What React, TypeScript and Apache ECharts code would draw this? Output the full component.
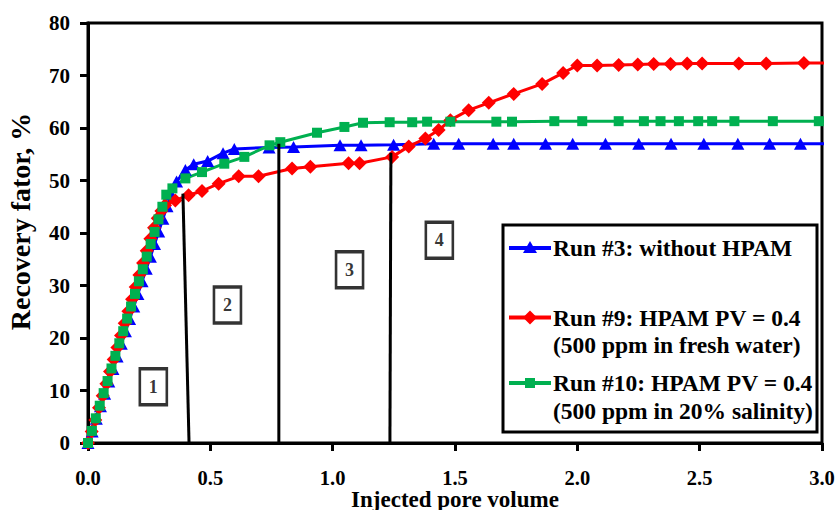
import React, { useEffect, useRef } from "react";
import * as echarts from "echarts";

const FONT = "'Liberation Serif', 'Times New Roman', Times, serif";

// Run #3: without HPAM (blue triangles)
const run3X = [0, 0.017, 0.034, 0.051, 0.068, 0.085, 0.102, 0.119, 0.136, 0.153, 0.17, 0.187, 0.204, 0.221, 0.238, 0.255, 0.272, 0.289, 0.306, 0.323, 0.34,
  0.362, 0.398, 0.432, 0.489, 0.552, 0.598, 0.74, 0.84, 1.03, 1.116, 1.249,
  1.413, 1.515, 1.656, 1.74, 1.87, 1.981, 2.115, 2.251, 2.383, 2.517, 2.656, 2.786, 2.912, 3.05];
const run3Y = [0, 2.2, 4.6, 7.0, 9.4, 11.7, 14.1, 16.5, 18.9, 21.3, 23.6, 26.0, 28.4, 30.8, 33.2, 35.5, 37.9, 40.3, 42.7, 45.1, 47.4,
  49.8, 52.0, 53.1, 53.7, 55.2, 56.0, 56.3, 56.4, 56.7, 56.7, 56.8,
  57.0, 57.0, 57.0, 57.0, 57.0, 57.0, 57.0, 57.0, 57.0, 57.0, 57.0, 57.0, 57.0, 57.0];

// Run #9: HPAM PV = 0.4 (500 ppm in fresh water) (red diamonds)
const run9X = [0, 0.015, 0.03, 0.045, 0.06, 0.075, 0.09, 0.105, 0.12, 0.135, 0.15, 0.165, 0.18, 0.195, 0.21, 0.225, 0.24, 0.255, 0.27, 0.285, 0.3, 0.315,
  0.357, 0.411, 0.466, 0.534, 0.616, 0.697, 0.834, 0.909, 1.065, 1.11, 1.243, 1.311, 1.379, 1.433, 1.481, 1.556, 1.638, 1.74, 1.856, 1.942,
  2.0, 2.081, 2.169, 2.247, 2.312, 2.381, 2.449, 2.51, 2.66, 2.772, 2.926, 3.05];
const run9Y = [0, 2.2, 4.4, 6.7, 9.0, 11.3, 13.6, 15.9, 18.2, 20.5, 22.8, 25.1, 27.4, 29.7, 32.0, 34.3, 36.6, 38.9, 41.0, 42.8, 44.2, 45.3,
  46.2, 47.2, 48.0, 49.4, 50.8, 50.8, 52.3, 52.6, 53.3, 53.3, 54.5, 56.5, 58.0, 59.6, 61.5, 63.4, 64.8, 66.5, 68.4, 70.5,
  71.9, 71.9, 72.0, 72.1, 72.2, 72.2, 72.3, 72.3, 72.3, 72.3, 72.4, 72.4];

// Run #10: HPAM PV = 0.4 (500 ppm in 20% salinity) (green squares)
const run10X = [0, 0.016, 0.032, 0.048, 0.064, 0.08, 0.096, 0.112, 0.128, 0.144, 0.16, 0.176, 0.192, 0.208, 0.224, 0.24, 0.256, 0.272, 0.288, 0.304, 0.32,
  0.345, 0.398, 0.466, 0.557, 0.639, 0.742, 0.786, 0.936, 1.048, 1.124, 1.233, 1.325, 1.386, 1.481, 1.669, 1.733, 1.906, 2.02,
  2.169, 2.272, 2.34, 2.415, 2.494, 2.551, 2.642, 2.799, 2.987, 3.05];
const run10Y = [0, 2.3, 4.7, 7.1, 9.5, 11.8, 14.2, 16.6, 19.0, 21.3, 23.7, 26.0, 28.4, 30.8, 33.1, 35.5, 37.9, 40.2, 42.6, 45.0, 47.3,
  48.5, 50.4, 51.6, 53.2, 54.5, 56.7, 57.3, 59.1, 60.2, 61.0, 61.1, 61.1, 61.2, 61.2, 61.2, 61.2, 61.3, 61.3,
  61.3, 61.3, 61.3, 61.3, 61.3, 61.3, 61.3, 61.3, 61.3, 61.3];

// Stage divider lines (top point -> bottom point)
const dividerTopX = [0.388, 0.78, 1.238];
const dividerTopY = [47.5, 57.0, 55.3];
const dividerBottomX = [0.413, 0.78, 1.234];

// Stage number boxes
const stageLabels = ["1", "2", "3", "4"];
const stageX = [0.267, 0.57, 1.069, 1.436];
const stageY = [10.7, 26.3, 33.0, 38.6];

// Axis ticks
const xMin = 0, xMax = 3, xStep = 0.5;
const yMin = 0, yMax = 80, yStep = 10;

const seriesNames = [
  "Run #3: without HPAM",
  "Run #9: HPAM PV = 0.4\n(500 ppm in fresh water)",
  "Run #10: HPAM PV = 0.4\n(500 ppm in 20% salinity)",
];
const seriesColors = ["#0000FF", "#FF0000", "#00B050"];

const zip = (xs: number[], ys: number[]) => xs.map((x, i) => [x, ys[i]]);

export default function App() {
  const ref = useRef<HTMLDivElement>(null);
  useEffect(() => {
    if (!ref.current) return;
    const chart = echarts.init(ref.current, null, { renderer: "svg" });

    const lx = 503, ly = 225, lw = 314, lh = 207;
    const rowY = [248, 317.5, 383];
    const iconX0 = 509, iconX1 = 551, iconC = 530;
    const textX = 553;
    const lineGap = 27.5;
    const tri = (cx: number, cy: number) => [[cx, cy - 7], [cx + 7, cy + 5], [cx - 7, cy + 5]];
    const dia = (cx: number, cy: number) => [[cx, cy - 7], [cx + 7, cy], [cx, cy + 7], [cx - 7, cy]];

    const legendTexts: any[] = [];
    seriesNames.forEach((name, i) => {
      name.split("\n").forEach((line, j) => {
        legendTexts.push({
          type: "text",
          x: textX,
          y: rowY[i] + j * lineGap,
          style: {
            text: line,
            font: `bold 23.5px ${FONT}`,
            fill: "#000",
            textAlign: "left",
            textVerticalAlign: "middle",
          },
        });
      });
    });

    const legendGraphics: any[] = [
      {
        type: "rect",
        shape: { x: lx, y: ly, width: lw, height: lh },
        style: { fill: "#fff", stroke: "#000", lineWidth: 3 },
      },
      ...rowY.map((y, i) => ({
        type: "line",
        shape: { x1: iconX0, y1: y, x2: iconX1, y2: y },
        style: { stroke: seriesColors[i], lineWidth: 4 },
      })),
      { type: "polygon", shape: { points: tri(iconC, rowY[0]) }, style: { fill: seriesColors[0] } },
      { type: "polygon", shape: { points: dia(iconC, rowY[1]) }, style: { fill: seriesColors[1] } },
      { type: "rect", shape: { x: iconC - 5, y: rowY[2] - 5, width: 10, height: 10 }, style: { fill: seriesColors[2] } },
      ...legendTexts,
    ];

    const dividerSeries = dividerTopX.map((tx, i) => ({
      type: "line",
      data: [[tx, dividerTopY[i]], [dividerBottomX[i], 0]],
      symbol: "none",
      lineStyle: { color: "#000", width: 3 },
      z: 5,
      silent: true,
    }));

    chart.setOption({
      animation: false,
      backgroundColor: "#fff",
      grid: {
        left: 88,
        right: 16,
        top: 23,
        bottom: 67,
        show: true,
        borderColor: "#000",
        borderWidth: 3,
        backgroundColor: "transparent",
        outerBoundsMode: "none",
        containLabel: false,
      },
      xAxis: {
        type: "value",
        min: xMin,
        max: xMax,
        interval: xStep,
        name: "Injected pore volume",
        nameLocation: "middle",
        nameGap: 44.5,
        nameMoveOverlap: false,
        nameTextStyle: { fontFamily: FONT, fontWeight: "bold", fontSize: 23, color: "#000" },
        axisLine: { show: true, lineStyle: { color: "#000", width: 3 } },
        axisTick: { show: true, inside: false, length: 8, lineStyle: { color: "#000", width: 3 } },
        axisLabel: {
          margin: 24,
          fontFamily: FONT,
          fontWeight: "bold",
          fontSize: 20.5,
          color: "#000",
          formatter: (v: number) => v.toFixed(1),
        },
        splitLine: { show: false },
      },
      yAxis: {
        type: "value",
        min: yMin,
        max: yMax,
        interval: yStep,
        name: "Recovery fator, %",
        nameLocation: "middle",
        nameGap: 54,
        nameMoveOverlap: false,
        nameTextStyle: { fontFamily: FONT, fontWeight: "bold", fontSize: 28, color: "#000", padding: [0, 0, 0, 23] },
        axisLine: { show: true, lineStyle: { color: "#000", width: 3 } },
        axisTick: { show: true, inside: false, length: 8, lineStyle: { color: "#000", width: 3 } },
        axisLabel: { margin: 18, fontFamily: FONT, fontWeight: "bold", fontSize: 21, color: "#000" },
        splitLine: { show: false },
      },
      series: [
        {
          name: seriesNames[0],
          type: "line",
          data: zip(run3X, run3Y),
          symbol: "triangle",
          symbolSize: [13, 12],
          itemStyle: { color: seriesColors[0] },
          lineStyle: { color: seriesColors[0], width: 3 },
          clip: true,
        },
        {
          name: seriesNames[1],
          type: "line",
          data: zip(run9X, run9Y),
          symbol: "diamond",
          symbolSize: [14, 14],
          itemStyle: { color: seriesColors[1] },
          lineStyle: { color: seriesColors[1], width: 3 },
          clip: true,
        },
        {
          name: seriesNames[2],
          type: "line",
          data: zip(run10X, run10Y),
          symbol: "rect",
          symbolSize: 10,
          itemStyle: { color: seriesColors[2] },
          lineStyle: { color: seriesColors[2], width: 3 },
          clip: true,
        },
        ...dividerSeries,
        {
          type: "scatter",
          data: stageX.map((x, i) => [x, stageY[i], stageLabels[i]]),
          symbol: "rect",
          symbolSize: [27, 36],
          itemStyle: { color: "#fff", borderColor: "#000", borderWidth: 3 },
          label: {
            show: true,
            position: "inside",
            formatter: (p: any) => p.data[2],
            fontFamily: FONT,
            fontWeight: "bold",
            fontSize: 18,
            color: "#000",
          },
          z: 6,
          silent: true,
        },
      ],
      graphic: legendGraphics,
    });
    return () => chart.dispose();
  }, []);
  return <div ref={ref} style={{ position: "fixed", left: 0, top: 0, width: 838, height: 510 }} />;
}
